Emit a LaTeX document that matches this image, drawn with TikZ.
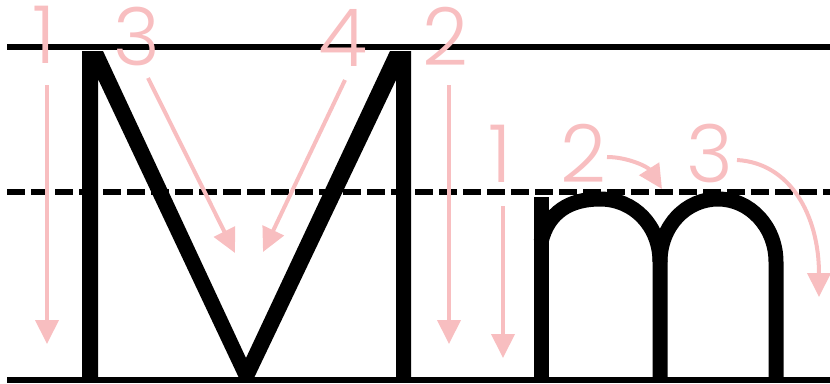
\documentclass[tikz,border=0pt]{standalone}
\usepackage{fontspec}
\newfontfamily\digitfont{Poppins Light}
\usetikzlibrary{arrows.meta}
\definecolor{guidepink}{RGB}{248,190,192}
\begin{document}
\begin{tikzpicture}[
x=1pt, y=-1pt,
rule/.style={line width=5.5pt},
midrule/.style={line width=5.5pt, dash pattern=on 18pt off 6pt},
letter/.style={line width=15pt},
stroke/.style={guidepink, line width=4pt, -{Triangle[length=24pt,width=23pt]}},
num/.style={guidepink, inner sep=0pt, anchor=base, font=\digitfont\fontsize{80}{80}\selectfont},
]
\useasboundingbox (0,0) rectangle (830,383);
\draw[rule] (7,47) -- (830,47);
\draw[midrule] (7,192) -- (830,192);
\draw[rule] (7,380) -- (830,380);

\node[num] (M-1) at (44,63) {1};
\node[num] (M-3) at (137,65) {3};
\node[num] (M-4) at (343,66) {4};
\node[num] (M-2) at (445,65) {2};
\node[num] (m-1) at (500,182) {1};
\node[num] (m-2) at (583,182) {2};
\node[num] (m-3) at (710,182) {3};

\draw[stroke] (47,85) -- (47,344);
\draw[stroke] (148,78) -- (235,253);
\draw[stroke] (345,80) -- (263,252);
\draw[stroke] (449,85) -- (449,344);
\draw[stroke] (503,206) -- (503,358);
\draw[stroke] (607,157) .. controls (628,157) and (648,167) .. (662,189);
\draw[stroke] (737,160) .. controls (790,163) and (819,215) .. (819,297);

\fill (82,378) -- (82,51) -- (103,51) -- (246,358) -- (390,51) -- (411,51) -- (411,378)
  -- (396,378) -- (396,80) -- (254,378) -- (239,378) -- (98,79) -- (98,378) -- cycle;
\draw[letter] (541,197) -- (541,378);
\draw[letter] (541,242) .. controls (548,212) and (570,199) .. (600,199)
  .. controls (634,199) and (660,226) .. (660,262) -- (660,378);
\draw[letter] (660,262) .. controls (660,226) and (686,199) .. (718,199)
  .. controls (750,199) and (776,227) .. (776,262) -- (776,378);
\end{tikzpicture}
\end{document}
